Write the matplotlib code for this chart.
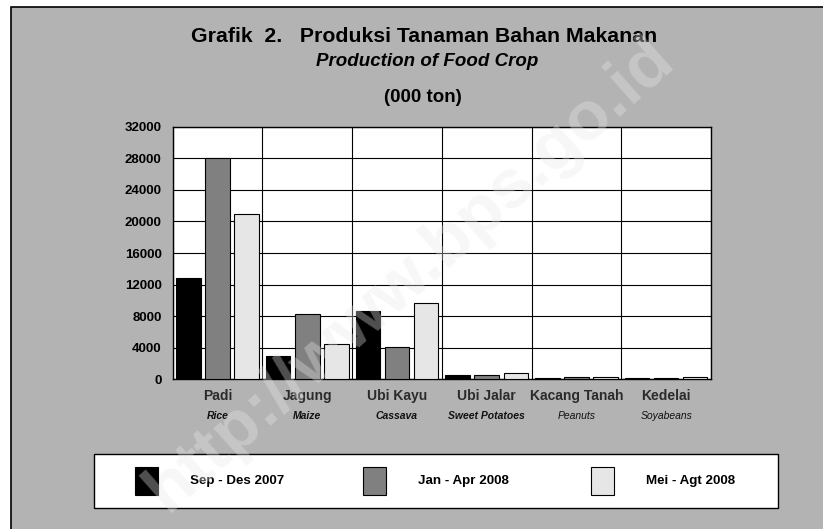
import matplotlib.pyplot as plt
from matplotlib.patches import Rectangle
import numpy as np

# data (000 ton)
categories = ["Padi", "Jagung", "Ubi Kayu", "Ubi Jalar", "Kacang Tanah", "Kedelai"]
categories_en = ["Rice", "Maize", "Cassava", "Sweet Potatoes", "Peanuts", "Soyabeans"]
series_names = ["Sep - Des 2007", "Jan - Apr 2008", "Mei - Agt 2008"]
sep_des_2007 = [12800, 2950, 8690, 550, 150, 200]
jan_apr_2008 = [28070, 8270, 4050, 600, 300, 200]
mei_agt_2008 = [20900, 4510, 9630, 800, 350, 250]
y_ticks = [0, 4000, 8000, 12000, 16000, 20000, 24000, 28000, 32000]

W, H = 823, 529
bg = "#b3b3b3"
colors = ["#000000", "#808080", "#e6e6e6"]
plt.rcParams["font.family"] = ["Liberation Sans", "DejaVu Sans"]


def px(x, y):
    # pixel coords -> figure fraction
    return x / W, 1 - y / H


fig = plt.figure(figsize=(W / 100, H / 100), dpi=100)
fig.patch.set_facecolor("white")

# gray panel with black top/left border
fig.patches.append(Rectangle(px(11, H + 20), (W - 11 + 20) / W, (H - 7 + 20) / H,
                             transform=fig.transFigure, facecolor=bg,
                             edgecolor="black", linewidth=1.2, zorder=0))

ax = fig.add_axes([172.7 / W, 1 - 379.3 / H, (711 - 172.7) / W, 252.6 / H])
ax.set_zorder(2)
ax.set_facecolor("white")

x = np.arange(len(categories))
step = 0.324
width = 0.273
for i, vals in enumerate([sep_des_2007, jan_apr_2008, mei_agt_2008]):
    ax.bar(x + (i - 1) * step, vals, width, color=colors[i], edgecolor="black",
           linewidth=0.8, zorder=3)

ax.set_xlim(-0.5, len(categories) - 0.5)
ax.set_ylim(0, 32000)
ax.set_yticks(y_ticks)
ax.set_yticklabels([str(t) for t in y_ticks], fontsize=9.5, fontweight="bold")
ax.set_xticks(np.arange(len(categories) + 1) - 0.5)
ax.set_xticklabels([])
ax.tick_params(axis="both", length=0, pad=8)
ax.grid(True, color="black", linewidth=0.8, zorder=1)
for s in ax.spines.values():
    s.set_linewidth(1.0)
    s.set_color("black")

# category labels
for i, (c, e) in enumerate(zip(categories, categories_en)):
    xf = ax.transData.transform((i, 0))[0] / W
    fig.text(xf, 1 - 396 / H, c, ha="center", va="center", fontsize=10,
             fontweight="bold", color="#2b2b2b", zorder=5)
    bold = "bold" if i < 4 else "normal"
    fig.text(xf, 1 - 416 / H, e, ha="center", va="center", fontsize=7.5,
             fontstyle="italic", fontweight=bold, color="#111111", zorder=5)

# titles
fig.text(*px(424, 36), "Grafik  2.   Produksi Tanaman Bahan Makanan", ha="center",
         va="center", fontsize=15.3, fontweight="bold", zorder=5)
fig.text(*px(427, 61), "Production of Food Crop", ha="center", va="center",
         fontsize=13.5, fontweight="bold", fontstyle="italic", zorder=5)
fig.text(*px(423, 97), "(000 ton)", ha="center", va="center", fontsize=13.5,
         fontweight="bold", zorder=5)

# legend box
fig.patches.append(Rectangle(px(94, 508), (778 - 94) / W, (508 - 454) / H,
                             transform=fig.transFigure, facecolor="white",
                             edgecolor="black", linewidth=1.0, zorder=2))
for i, name in enumerate(series_names):
    x0 = 135 + i * 228
    fig.patches.append(Rectangle(px(x0, 494.5), 22.5 / W, 28 / H,
                                 transform=fig.transFigure, facecolor=colors[i],
                                 edgecolor="black", linewidth=0.8, zorder=3))
    fig.text(*px(x0 + 55, 481), name, ha="left", va="center", fontsize=9.6,
             fontweight="bold", zorder=4)

# watermark
fig.text(*px(410, 275), "http://www.bps.go.id", ha="center", va="center",
         rotation=41.5, fontsize=50, fontweight="bold", color="#e8e8e8",
         alpha=0.35, zorder=10)

fig.savefig("out.png", dpi=100, facecolor=fig.get_facecolor())
